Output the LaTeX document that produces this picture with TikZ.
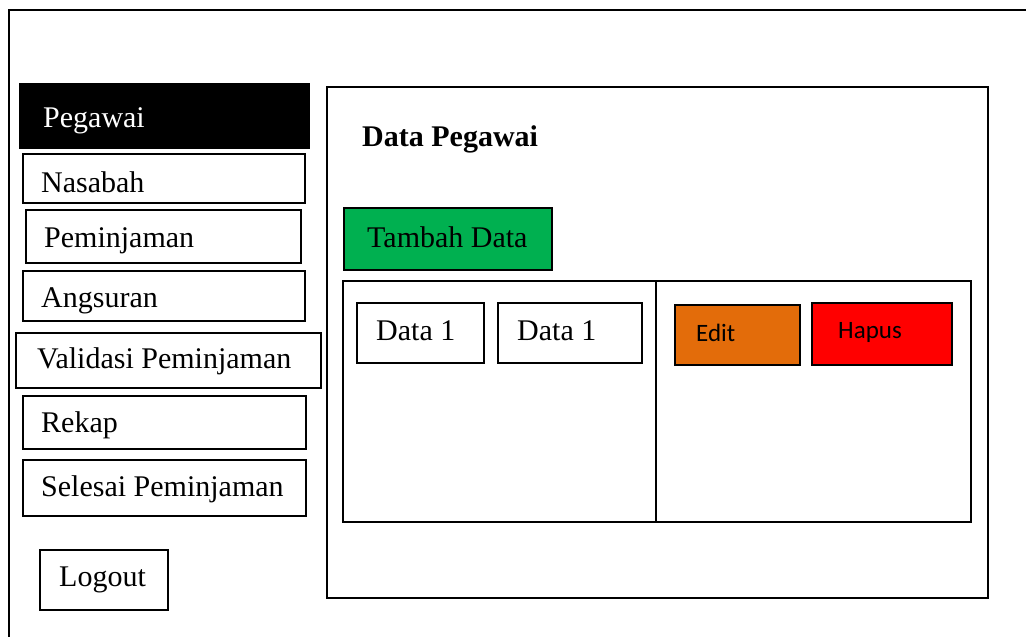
\documentclass[tikz,border=0pt]{standalone}
\usepackage{fontspec}
\setmainfont{Liberation Serif}
\newfontfamily\uifont{Carlito}
\definecolor{addgreen}{RGB}{0,176,80}
\definecolor{editorange}{RGB}{227,108,10}
\definecolor{delred}{RGB}{255,0,0}
\begin{document}
\begin{tikzpicture}[x=1pt,y=-1pt,
  box/.style={draw, line width=1.8pt, inner sep=0pt, anchor=north west},
  lbl/.style={anchor=base west, inner sep=0pt, font=\fontsize{30}{36}\selectfont},
  btn/.style={anchor=base west, inner sep=0pt, font=\uifont\fontsize{25}{30}\selectfont}]
\useasboundingbox (0,0) rectangle (1026,637);
\fill[white] (0,0) rectangle (1026,637);
\begin{scope}
  \clip (0,0) rectangle (1026,637);
  % window frame, running past the right and bottom edges
  \draw[line width=1.8pt] (9,650) -- (9,10) -- (1040,10);
\end{scope}

% side menu
\node[box, fill=black, minimum width=289, minimum height=64] (mPegawai) at (19,83) {};
\node[lbl, text=white] (tPegawai) at (43,127) {Pegawai};
\node[box, minimum width=282, minimum height=49] (mNasabah) at (22,153) {};
\node[lbl] (tNasabah) at (41,192) {Nasabah};
\node[box, minimum width=275, minimum height=53] (mPinjam) at (25,209) {};
\node[lbl] (tPinjam) at (44,247) {Peminjaman};
\node[box, minimum width=282, minimum height=50] (mAngsur) at (22,270) {};
\node[lbl] (tAngsur) at (41,307) {Angsuran};
\node[box, minimum width=305, minimum height=55] (mValid) at (15,332) {};
\node[lbl] (tValid) at (37,368) {Validasi Peminjaman};
\node[box, minimum width=283, minimum height=53] (mRekap) at (22,395) {};
\node[lbl] (tRekap) at (41,432) {Rekap};
\node[box, minimum width=283, minimum height=56] (mSelesai) at (22,459) {};
\node[lbl] (tSelesai) at (41,496) {Selesai Peminjaman};
\node[box, minimum width=128, minimum height=60] (mLogout) at (39,549) {};
\node[lbl] (tLogout) at (59,586) {Logout};

% content panel
\node[box, minimum width=661, minimum height=511] (panel) at (326,86) {};
\node[lbl, font=\bfseries\fontsize{30}{36}\selectfont] (title) at (362,146) {Data Pegawai};
\node[box, fill=addgreen, minimum width=208, minimum height=62] (add) at (343,207) {};
\node[lbl] (tAdd) at (367,247) {Tambah Data};

% data table
\node[box, minimum width=628, minimum height=241] (table) at (342,280) {};
\draw[line width=1.8pt] (table.north west -| 656,0) coordinate (divTop)
  -- (table.south west -| 656,0) coordinate (divBot);
\node[box, minimum width=127, minimum height=60] (cell1) at (356,302) {};
\node[lbl] (tCell1) at (376,340) {Data 1};
\node[box, minimum width=144, minimum height=60] (cell2) at (497,302) {};
\node[lbl] (tCell2) at (517,340) {Data 1};
\node[box, fill=editorange, minimum width=125, minimum height=60] (edit) at (674,304) {};
\node[btn] (tEdit) at (696,341) {Edit};
\node[box, fill=delred, minimum width=140, minimum height=62] (hapus) at (811,302) {};
\node[btn] (tHapus) at (838,338) {Hapus};
\end{tikzpicture}
\end{document}
